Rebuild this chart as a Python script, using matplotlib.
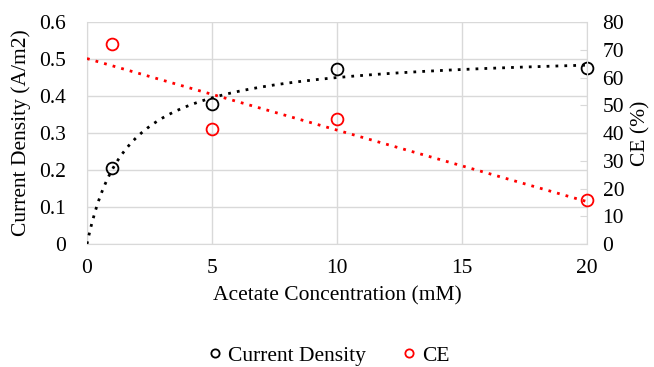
import numpy as np
import matplotlib
matplotlib.use("Agg")
import matplotlib.pyplot as plt

plt.rcParams['font.family'] = ['Liberation Serif', 'DejaVu Serif']

# measured data
acetate = np.array([1, 5, 10, 20])
current_density = np.array([0.205, 0.378, 0.472, 0.475])
ce = np.array([72, 41.5, 45, 16])

# Monod-type fit for current density (simple grid search)
best = None
for K in np.linspace(0.1, 10, 991):
    f = acetate / (K + acetate)
    vmax = np.sum(f * current_density) / np.sum(f * f)
    err = np.sum((vmax * f - current_density) ** 2)
    if best is None or err < best[0]:
        best = (err, K, vmax)
_, K, vmax = best
xfit = np.linspace(0, 20, 300)
cd_fit = vmax * xfit / (K + xfit)

# linear trend for CE
slope, intercept = np.polyfit(acetate, ce, 1)
ce_fit = intercept + slope * xfit

fs = 15.5
fig = plt.figure(figsize=(6.54, 3.67), dpi=100)
ax = fig.add_axes([0.133, 0.335, 0.765, 0.605])
ax2 = ax.twinx()

grid_col = '#d9d9d9'
ax.set_xlim(0, 20)
ax.set_ylim(0, 0.6)
ax.set_xticks([0, 5, 10, 15, 20])
ax.set_yticks(np.arange(0, 0.61, 0.1))
ax.set_yticklabels(['0', '0.1', '0.2', '0.3', '0.4', '0.5', '0.6'])
ax.grid(True, color=grid_col, linewidth=1)
ax.set_axisbelow(True)
for s in ax.spines.values():
    s.set_visible(False)
ax.spines['bottom'].set_visible(True)
ax.spines['bottom'].set_color(grid_col)
ax.spines['left'].set_visible(True)
ax.spines['left'].set_color(grid_col)
ax.tick_params(axis='y', length=0, labelsize=fs, pad=15)
ax.tick_params(axis='x', length=0, labelsize=fs, pad=11)

ax2.set_ylim(0, 80)
ax2.set_yticks(np.arange(0, 81, 10))
for s in ax2.spines.values():
    s.set_visible(False)
ax2.spines['right'].set_visible(True)
ax2.spines['right'].set_color(grid_col)
ax2.tick_params(axis='y', direction='in', length=5, color=grid_col, labelsize=fs, pad=11)

ax.plot(xfit, cd_fit, linestyle=(0, (1, 2.2)), color='black', linewidth=2, zorder=3)
ax2.plot(xfit, ce_fit, linestyle=(0, (1, 2.2)), color='#ff0000', linewidth=2, zorder=3)

h1, = ax.plot(acetate, current_density, 'o', markersize=8.5, markerfacecolor='none',
              markeredgecolor='black', markeredgewidth=1.3, clip_on=False, zorder=4,
              label='Current Density')
h2, = ax2.plot(acetate, ce, 'o', markersize=8.5, markerfacecolor='none',
               markeredgecolor='#ff0000', markeredgewidth=1.3, clip_on=False, zorder=4,
               label='CE')

ax.set_xlabel('Acetate Concentration (mM)', fontsize=fs, labelpad=6)
ax.set_ylabel('Current Density (A/m2)', fontsize=fs, labelpad=6)
ax2.set_ylabel('CE (%)', fontsize=fs)
ax2.yaxis.set_label_coords(1.088, 0.5)

fig.legend([h1, h2], ['Current Density', 'CE'], loc='lower center',
           bbox_to_anchor=(0.5, -0.05), ncol=2, frameon=False, fontsize=fs,
           markerscale=0.7, handletextpad=0.1, columnspacing=1.5, handlelength=1)

fig.savefig('out.png', dpi=100)
